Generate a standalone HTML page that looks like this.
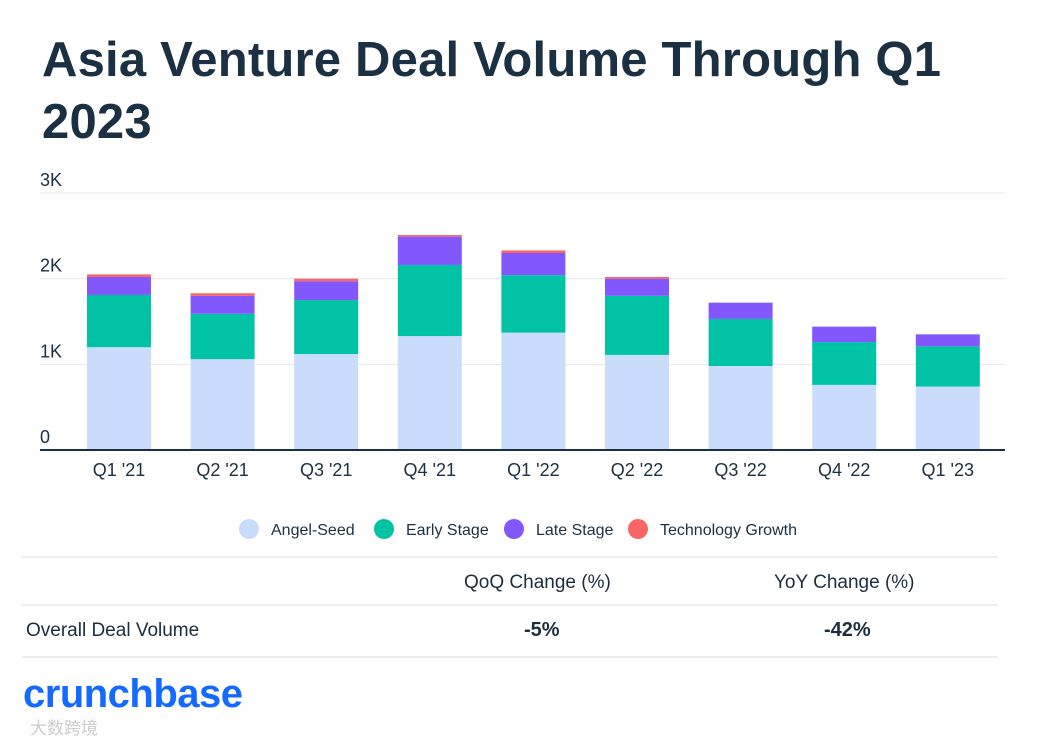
<!DOCTYPE html>
<html><head><meta charset="utf-8"><style>
body{margin:0;width:1058px;height:745px;background:#fff;font-family:"Liberation Sans","Noto Sans CJK SC",sans-serif;color:#1a2e3f;overflow:hidden;position:relative}
.t{position:absolute;white-space:nowrap}
</style></head><body>
<div class="t" style="left:42px;top:29px;font-size:49px;letter-spacing:0.2px;font-weight:bold;line-height:62px;color:#1b3042">Asia Venture Deal Volume Through Q1<br>2023</div>
<svg width="1058" height="745" style="position:absolute;left:0;top:0" id="chart"></svg>
<div class="t" style="left:464px;top:572px;font-size:19px">QoQ Change (%)</div>
<div class="t" style="left:774px;top:572px;font-size:19px">YoY Change (%)</div>
<div class="t" style="left:26px;top:620px;font-size:19px">Overall Deal Volume</div>
<div class="t" style="left:524px;top:619px;font-size:20px;font-weight:bold">-5%</div>
<div class="t" style="left:824px;top:619px;font-size:20px;font-weight:bold">-42%</div>
<div class="t" style="left:23px;top:672px;font-size:40px;font-weight:bold;color:#146aff;letter-spacing:-0.5px">crunchbase</div>
<div class="t" style="left:30px;top:714px;font-size:17px;color:#ccc">大数跨境</div>
<script>
const categories=["Q1 '21","Q2 '21","Q3 '21","Q4 '21","Q1 '22","Q2 '22","Q3 '22","Q4 '22","Q1 '23"];
const angelSeed=[1200,1060,1120,1330,1370,1110,980,760,740];
const earlyStage=[610,530,630,830,670,690,550,500,470];
const lateStage=[210,210,220,330,260,200,190,180,140];
const techGrowth=[30,30,30,20,30,20,0,0,0];
const yTicks=[0,1000,2000,3000];
const yTickLabels=["0","1K","2K","3K"];
const seriesNames=["Angel-Seed","Early Stage","Late Stage","Technology Growth"];
const colors=["#cadcfc","#00c2a4","#8357fe","#f96464"];
const svg=document.getElementById('chart');const NS="http://www.w3.org/2000/svg";
function y(v){return 450-v*(257/3000);}
function x(i){return 119+i*103.6;}
function mk(t,a,txt){const e=document.createElementNS(NS,t);for(const k in a)e.setAttribute(k,a[k]);if(txt!==undefined)e.textContent=txt;svg.appendChild(e);return e;}
yTicks.forEach((v,i)=>{
 if(v>0){const g=mk('line',{x1:40,x2:1005,y1:y(v),y2:y(v),stroke:'#e6e8ea','stroke-width':1});
 
 }
 const t=mk('text',{x:40,y:y(v)-7,'font-size':18,fill:'#1b3042','font-family':'Liberation Sans'},yTickLabels[i]);
 
 
});
const series=[angelSeed,earlyStage,lateStage,techGrowth];
categories.forEach((c,i)=>{
 let base=0;
 series.forEach((s,k)=>{
  if(s[i]<=0)return;
  const r=mk('rect',{x:x(i)-32,width:64,y:y(base+s[i]),height:y(base)-y(base+s[i]),fill:colors[k]});
  
  
  base+=s[i];
 });
 const t=mk('text',{x:x(i),y:476,'font-size':18,fill:'#1b3042','text-anchor':'middle','font-family':'Liberation Sans'},c);
 
 
});
const ax=mk('line',{x1:40,x2:1005,y1:450,y2:450,stroke:'#1b3042','stroke-width':2});


const lx=[249,384,514,638];
seriesNames.forEach((n,k)=>{
 const c=mk('circle',{cx:lx[k],cy:529,r:10,fill:colors[k]});
 
 
 const t=mk('text',{x:lx[k]+22,y:535,'font-size':16,fill:'#1b3042','font-family':'Liberation Sans'},n);
 
 
});
[557,605,657].forEach(yy=>{const l=mk('line',{x1:22,x2:998,y1:yy,y2:yy,stroke:'#e6e8ea','stroke-width':1.5});
 
 });
</script>
</body></html>
